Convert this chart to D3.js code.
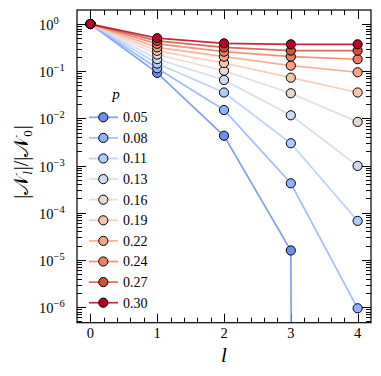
<!DOCTYPE html>
<html>
<head>
<meta charset="utf-8">
<script src="https://cdn.jsdelivr.net/npm/d3@7"></script>
<style>
  html, body { margin: 0; padding: 0; background: #fff; }
  svg { display: block; }
</style>
</head>
<body>
<svg id="chart" width="381" height="376"></svg>
<script>
// ---- data ----
const layers = [0, 1, 2, 3, 4];
const pLabels = ["0.05", "0.08", "0.11", "0.13", "0.16", "0.19", "0.22", "0.24", "0.27", "0.30"];
const p005 = [1, 0.092, 0.00427, 1.58e-5, 0];
const p008 = [1, 0.115, 0.0150, 4.2e-4, 9.4e-7];
const p011 = [1, 0.145, 0.0353, 0.00296, 6.7e-5];
const p013 = [1, 0.18, 0.065, 0.0116, 9.8e-4];
const p016 = [1, 0.225, 0.102, 0.034, 0.0084];
const p019 = [1, 0.27, 0.149, 0.0727, 0.0353];
const p022 = [1, 0.32, 0.203, 0.131, 0.0947];
const p024 = [1, 0.38, 0.259, 0.203, 0.179];
const p027 = [1, 0.44, 0.32, 0.272, 0.272];
const p030 = [1, 0.50, 0.39, 0.371, 0.371];
const seriesValues = [p005, p008, p011, p013, p016, p019, p022, p024, p027, p030];
const colors = ["#6c8ff1", "#8fb1fe", "#afcafc", "#cdd9ec", "#e6d7cf",
                "#f4c5ad", "#f6a385", "#ec7f63", "#d44e41", "#b40426"];
const xTicks = [0, 1, 2, 3, 4];
const yTickExps = [0, -1, -2, -3, -4, -5, -6];

// ---- layout ----
const svg = d3.select("#chart");
const L = 77, R = 371, T = 10, B = 322.7;
const x = d3.scaleLinear().domain([-0.2, 4.2]).range([L, R]);
const y = d3.scaleLog().domain([4.65e-7, 1.98]).range([B, T]);
const yv = v => y(v > 0 ? v : 1e-300);

svg.append("defs").append("clipPath").attr("id", "clip")
  .append("rect").attr("x", L).attr("y", T).attr("width", R - L).attr("height", B - T);

// ---- ticks (inward, all sides) ----
const tickG = svg.append("g").attr("stroke", "#000").attr("stroke-width", 1);
const majLen = 9, minLen = 5;
const xMinor = d3.range(-0.2, 4.2001, 0.2).map(v => Math.round(v * 10) / 10)
  .filter(v => !xTicks.includes(v) && v > -0.2 && v < 4.2);
xTicks.forEach(t => {
  const px = Math.round(x(t)) + 0.5;
  tickG.append("line").attr("x1", px).attr("x2", px).attr("y1", B).attr("y2", B - majLen);
  tickG.append("line").attr("x1", px).attr("x2", px).attr("y1", T).attr("y2", T + majLen);
});
xMinor.forEach(t => {
  const px = Math.round(x(t)) + 0.5;
  tickG.append("line").attr("x1", px).attr("x2", px).attr("y1", B).attr("y2", B - minLen);
  tickG.append("line").attr("x1", px).attr("x2", px).attr("y1", T).attr("y2", T + minLen);
});
const [ylo, yhi] = y.domain();
for (let e = -7; e <= 0; e++) {
  for (let m = 1; m <= 9; m++) {
    const v = m * Math.pow(10, e);
    if (v < ylo || v > yhi) continue;
    const py = Math.round(y(v)) + 0.5;
    const len = m === 1 ? majLen : minLen;
    tickG.append("line").attr("x1", L).attr("x2", L + len).attr("y1", py).attr("y2", py);
    tickG.append("line").attr("x1", R).attr("x2", R - len).attr("y1", py).attr("y2", py);
  }
}

// ---- tick labels ----
xTicks.forEach(t => {
  svg.append("text").attr("x", x(t)).attr("y", 338).attr("text-anchor", "middle")
    .attr("font-size", 14.5).text(t);
});
yTickExps.forEach(e => {
  const tx = svg.append("text").attr("x", 39).attr("y", y(Math.pow(10, e)) + 6)
    .attr("font-size", 14.5);
  tx.append("tspan").text("10");
  tx.append("tspan").attr("font-size", 10.5).attr("dy", -6)
    .text(e < 0 ? "\u2212" + (-e) : String(e));
});

// ---- series ----
const plot = svg.append("g").attr("clip-path", "url(#clip)");
const line = d3.line().x((d, i) => x(layers[i])).y(d => yv(d));
seriesValues.forEach((vals, k) => {
  const g = plot.append("g");
  g.append("path").attr("d", line(vals)).attr("fill", "none")
    .attr("stroke", colors[k]).attr("stroke-width", 1.7).attr("stroke-opacity", 0.85);
  g.selectAll("circle").data(vals.map((v, i) => [layers[i], v]).filter(d => d[1] > 0))
    .join("circle")
    .attr("cx", d => x(d[0])).attr("cy", d => y(d[1])).attr("r", 4.6)
    .attr("fill", colors[k]).attr("stroke", "#000").attr("stroke-width", 1);
});

// ---- frame ----
svg.append("rect").attr("x", L).attr("y", T).attr("width", R - L).attr("height", B - T)
  .attr("fill", "none").attr("stroke", "#000").attr("stroke-width", 1.2);

// ---- legend ----
const lg = svg.append("g");
lg.append("text").attr("x", 116).attr("y", 99).attr("text-anchor", "middle")
  .attr("font-size", 15).attr("font-style", "italic").text("p");
pLabels.forEach((lab, k) => {
  const cy = 117.3 + k * 20.6;
  lg.append("line").attr("x1", 89).attr("x2", 118).attr("y1", cy).attr("y2", cy)
    .attr("stroke", colors[k]).attr("stroke-width", 1.7).attr("stroke-opacity", 0.85);
  lg.append("circle").attr("cx", 103.3).attr("cy", cy).attr("r", 4.6)
    .attr("fill", colors[k]).attr("stroke", "#000").attr("stroke-width", 1);
  lg.append("text").attr("x", 123).attr("y", cy + 4.8).attr("font-size", 14).text(lab);
});

// ---- axis labels ----
svg.append("text").attr("x", x(2)).attr("y", 362).attr("text-anchor", "middle")
  .attr("font-size", 21).attr("font-style", "italic").text("l");
const yl = svg.append("text").attr("transform", "translate(28,162) rotate(-90)")
  .attr("text-anchor", "middle").attr("font-size", 20);
yl.append("tspan").text("|\u{1D4A9}");
yl.append("tspan").attr("font-size", 13).attr("font-style", "italic").attr("dy", 4).attr("dx", 1).text("l");
yl.append("tspan").attr("dy", -4).attr("dx", 1).text("|/|\u{1D4A9}");
yl.append("tspan").attr("font-size", 13).attr("dy", 4).attr("dx", 1).text("0");
yl.append("tspan").attr("dy", -4).attr("dx", 1).text("|");
</script>
</body>
</html>
